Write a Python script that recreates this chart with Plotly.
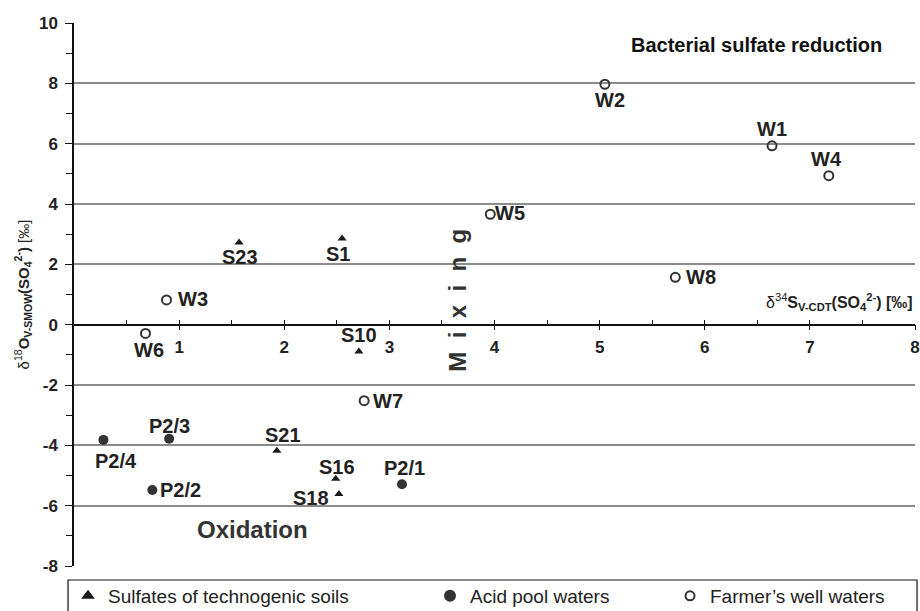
import plotly.graph_objects as go

# ---------------- data ----------------
soil_labels = ["S23", "S1", "S10", "S21", "S16", "S18"]
soil_x = [1.57, 2.55, 2.71, 1.93, 2.49, 2.52]
soil_y = [2.72, 2.86, -0.89, -4.18, -5.11, -5.61]

pool_labels = ["P2/1", "P2/2", "P2/3", "P2/4"]
pool_x = [3.12, 0.745, 0.905, 0.28]
pool_y = [-5.29, -5.48, -3.78, -3.82]

well_labels = ["W1", "W2", "W3", "W4", "W5", "W6", "W7", "W8"]
well_x = [6.64, 5.05, 0.88, 7.18, 3.96, 0.68, 2.76, 5.72]
well_y = [5.93, 7.97, 0.82, 4.94, 3.66, -0.29, -2.52, 1.57]

x_ticks = [1, 2, 3, 4, 5, 6, 7, 8]
x_minor = [0.5, 1.5, 2.5, 3.5, 4.5, 5.5, 6.5, 7.5]
y_ticks = [-8, -6, -4, -2, 0, 2, 4, 6, 8, 10]
y_minor = [-7, -5, -3, -1, 1, 3, 5, 7, 9]

series_names = ["Sulfates of technogenic soils", "Acid pool waters", "Farmer\u2019s well waters"]

# ---------------- styling ----------------
FONT = "Liberation Sans, Arial, sans-serif"
INK = "#222222"
# label placement: (xanchor, xshift px, yshift px)
label_place = {
    "S23": ("center", 1, -14), "S1": ("center", -4, -16), "S10": ("center", 0, 17),
    "S21": ("center", 6, 16), "S16": ("center", 1, 12), "S18": ("center", -28, -4),
    "P2/1": ("center", 3, 16), "P2/2": ("left", 6, 0), "P2/3": ("center", 0, 13),
    "P2/4": ("center", 13, -21),
    "W1": ("center", 0, 17), "W2": ("center", 5, -16), "W3": ("left", 9, 1),
    "W4": ("center", -2, 17), "W5": ("left", 3, 1), "W6": ("center", 4, -17),
    "W7": ("left", 7, 0), "W8": ("left", 9, 0),
}

fig = go.Figure()
fig.add_trace(go.Scatter(
    x=soil_x, y=soil_y, mode="markers", name=series_names[0], legend="legend",
    marker=dict(symbol="triangle-up", size=8, color="#1a1a1a"),
))
fig.add_trace(go.Scatter(
    x=pool_x, y=pool_y, mode="markers", name=series_names[1], legend="legend2",
    marker=dict(symbol="circle", size=10, color="#333333"),
))
fig.add_trace(go.Scatter(
    x=well_x, y=well_y, mode="markers", name=series_names[2], legend="legend3",
    marker=dict(symbol="circle-open", size=9, color="#333333", line=dict(width=2, color="#333333")),
))
# dummy trace for the overlay axis (upper half of crossing ticks)
fig.add_trace(go.Scatter(x=[], y=[], xaxis="x2", showlegend=False, hoverinfo="skip"))

annotations = []
for labs, xs, ys in [(soil_labels, soil_x, soil_y), (pool_labels, pool_x, pool_y), (well_labels, well_x, well_y)]:
    for lab, xv, yv in zip(labs, xs, ys):
        anc, dx, dy = label_place[lab]
        annotations.append(dict(
            x=xv, y=yv, xref="x", yref="y", text=f"<b>{lab}</b>", showarrow=False,
            xanchor=anc, yanchor="middle", xshift=dx, yshift=dy,
            font=dict(family=FONT, size=20, color=INK),
        ))

annotations += [
    dict(x=6.49, y=9.27, xref="x", yref="y", text="<b>Bacterial sulfate reduction</b>",
         showarrow=False, font=dict(family=FONT, size=20, color="#111111")),
    dict(x=1.70, y=-6.8, xref="x", yref="y", text="<b>Oxidation</b>",
         showarrow=False, font=dict(family=FONT, size=24, color="#333333")),
    dict(x=3.65, y=0.82, xref="x", yref="y", text="<b>M\u00a0\u00a0i\u00a0\u00a0x\u00a0\u00a0i\u00a0\u00a0n\u00a0\u00a0g</b>",
         textangle=-90, showarrow=False, font=dict(family=FONT, size=24, color="#333333")),
    dict(x=1.0, y=0.75, xref="paper", yref="y", xanchor="right", yanchor="middle",
         text="\u03b4<sup>34</sup><b>S</b><sub><b>V-CDT</b></sub><b>(SO</b><sub><b>4</b></sub><sup><b>2-</b></sup><b>) [\u2030]</b>",
         showarrow=False, font=dict(family=FONT, size=16, color=INK)),
]

y0_pos = (0 - (-8)) / 18.0

fig.update_layout(
    width=920, height=611,
    margin=dict(l=74, r=5, t=23, b=45, autoexpand=False),
    paper_bgcolor="white", plot_bgcolor="white",
    font=dict(family=FONT, color=INK),
    xaxis=dict(
        range=[0, 8], anchor="free", position=y0_pos, side="bottom",
        showgrid=False, zeroline=False,
        showline=True, linecolor="#111111", linewidth=1.5,
        tickmode="array", tickvals=x_ticks, ticktext=[str(v) for v in x_ticks],
        ticks="outside", ticklen=5, tickwidth=1.3, tickcolor="#111111",
        ticklabelstandoff=2, ticklabeloverflow="allow",
        tickfont=dict(family=FONT, size=17, color=INK, weight="bold"),
        minor=dict(tickmode="array", tickvals=x_minor, ticks="inside", ticklen=4,
                   tickwidth=1.2, tickcolor="#111111", showgrid=False),
    ),
    xaxis2=dict(
        range=[0, 8], overlaying="x", anchor="free", position=y0_pos, side="bottom",
        showgrid=False, zeroline=False, showline=False, showticklabels=False,
        tickmode="array", tickvals=x_ticks, ticks="inside", ticklen=5, tickwidth=1.3,
        tickcolor="#111111",
    ),
    yaxis=dict(
        range=[-8, 10], domain=[0, 1],
        showgrid=True, gridcolor="#8c8c8c", gridwidth=1.5, zeroline=False,
        showline=True, linecolor="#111111", linewidth=1.5,
        tickmode="array", tickvals=y_ticks, ticktext=[str(v) for v in y_ticks],
        ticks="outside", ticklen=7, tickwidth=1.3, tickcolor="#111111",
        ticklabelstandoff=4, ticklabeloverflow="allow",
        tickfont=dict(family=FONT, size=17, color=INK, weight="bold"),
        minor=dict(tickmode="array", tickvals=y_minor, ticks="outside", ticklen=6,
                   tickwidth=1.2, tickcolor="#111111", showgrid=False),
        title=dict(
            text="\u03b4<sup>18</sup><b>O</b><sub><b>V-SMOW</b></sub><b>(SO</b><sub><b>4</b></sub><sup><b>2-</b></sup><b>)</b> [\u2030]",
            font=dict(family=FONT, size=15, color=INK), standoff=6,
        ),
    ),
    legend=dict(x=-0.0071, y=-0.0552, xanchor="left", yanchor="middle", orientation="h",
                itemsizing="constant",
                font=dict(family=FONT, size=19, color=INK), bgcolor="rgba(0,0,0,0)"),
    legend2=dict(x=0.4233, y=-0.0552, xanchor="left", yanchor="middle", orientation="h",
                 itemsizing="constant",
                 font=dict(family=FONT, size=19, color=INK), bgcolor="rgba(0,0,0,0)"),
    legend3=dict(x=0.7087, y=-0.0552, xanchor="left", yanchor="middle", orientation="h",
                 font=dict(family=FONT, size=19, color=INK), bgcolor="rgba(0,0,0,0)"),
    shapes=[dict(type="rect", xref="paper", yref="paper",
                 x0=-0.0071, x1=1.0024, y0=-0.12, y1=-0.0258,
                 line=dict(color="#111111", width=1.2), fillcolor="rgba(0,0,0,0)", layer="above")],
    annotations=annotations,
    showlegend=True,
)

fig.write_html("out.html")
